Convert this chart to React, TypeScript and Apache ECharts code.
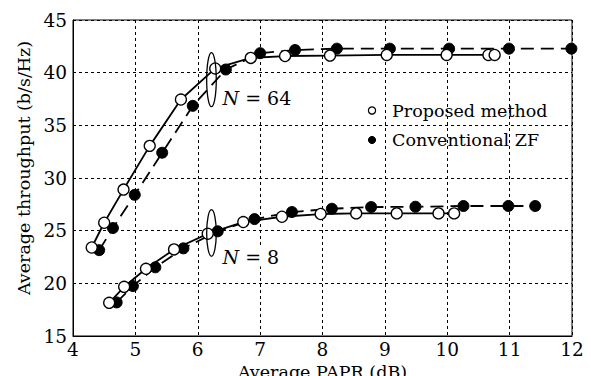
import React, { useEffect, useRef } from "react";
import * as echarts from "echarts";

const xTicks = [4, 5, 6, 7, 8, 9, 10, 11, 12];
const yTicks = [15, 20, 25, 30, 35, 40, 45];

const xPropN64 = [4.3, 4.5, 4.81, 5.23, 5.73, 6.28, 6.85, 7.4, 8.12, 9.03, 9.99, 10.66, 10.76];
const yPropN64 = [23.4, 25.75, 28.9, 33.05, 37.45, 40.4, 41.4, 41.58, 41.62, 41.68, 41.68, 41.68, 41.68];
const xConvN64 = [4.42, 4.64, 4.99, 5.43, 5.92, 6.45, 7.0, 7.56, 8.23, 9.08, 10.03, 10.99, 11.99];
const yConvN64 = [23.15, 25.25, 28.4, 32.4, 36.85, 40.3, 41.85, 42.15, 42.28, 42.28, 42.28, 42.28, 42.28];
const xPropN8 = [4.58, 4.82, 5.17, 5.62, 6.16, 6.73, 7.35, 7.97, 8.54, 9.19, 9.86, 10.11];
const yPropN8 = [18.15, 19.67, 21.38, 23.22, 24.71, 25.82, 26.32, 26.58, 26.64, 26.64, 26.64, 26.64];
const xConvN8 = [4.7, 4.96, 5.32, 5.77, 6.32, 6.91, 7.51, 8.15, 8.78, 9.49, 10.26, 10.98, 11.41];
const yConvN8 = [18.19, 19.74, 21.52, 23.32, 24.94, 26.1, 26.77, 27.08, 27.24, 27.27, 27.34, 27.34, 27.34];

const legendNames = ["Proposed method", "Conventional ZF"];
const groupLabels = ["64", "8"];
// ellipse centres in data coordinates (annotation anchors)
const ellipseAnchors: [number, number][] = [
  [6.22, 39.33],
  [6.22, 24.78],
];

const FONT = "DejaVu Serif";

function zip(xs: number[], ys: number[]) {
  return xs.map((x, i) => [x, ys[i]]);
}

export default function App() {
  const ref = useRef<HTMLDivElement>(null);
  useEffect(() => {
    if (!ref.current) return;
    const chart = echarts.init(ref.current, undefined, { renderer: "svg" });
    const openStyle = { color: "#fff", borderColor: "#000", borderWidth: 1.3 };
    const fillStyle = { color: "#000", borderColor: "#000", borderWidth: 1 };
    const solid = { color: "#000", width: 1.8, type: "solid" as const };
    const dashed = { color: "#000", width: 1.8, type: [13, 7] as any };
    const tickRich = { t: { fontFamily: FONT, fontSize: 18.5, color: "#000" } };
    const nameRich = { n: { fontFamily: FONT, fontSize: 17.5, color: "#000" } };
    const option: any = {
      animation: false,
      textStyle: { fontFamily: FONT },
      grid: {
        left: 73, top: 20, right: 19, bottom: 40,
        outerBoundsMode: "none", containLabel: false,
        show: true, borderColor: "#000", borderWidth: 1,
      },
      xAxis: {
        type: "value", min: 4, max: 12, interval: 1,
        name: "{n|Average PAPR (dB)}", nameLocation: "middle", nameGap: 27,
        nameMoveOverlap: false,
        nameTextStyle: { fontFamily: FONT, fontSize: 17.5, color: "#000", rich: nameRich },
        axisLine: { show: true, lineStyle: { color: "#000", width: 1 } },
        axisTick: { show: false },
        axisLabel: { fontFamily: FONT, fontSize: 18.5, color: "#000", margin: 4, rich: tickRich,
          formatter: (v: number) => (xTicks.includes(v) ? "{t|" + v + "}" : "") },
        splitLine: { show: true, lineStyle: { color: "#000", width: 1, type: [3, 3] } },
      },
      yAxis: {
        type: "value", min: 15, max: 45, interval: 5,
        name: "{n|Average throughput (b/s/Hz)}", nameLocation: "middle", nameGap: 40,
        nameMoveOverlap: false,
        nameTextStyle: { fontFamily: FONT, fontSize: 17.5, color: "#000", padding: [0, 0, 0, 20], rich: nameRich },
        axisLine: { show: true, lineStyle: { color: "#000", width: 1 } },
        axisTick: { show: false },
        axisLabel: { fontFamily: FONT, fontSize: 18.5, color: "#000", margin: 6, rich: tickRich,
          formatter: (v: number) => (yTicks.includes(v) ? "{t|" + v + "}" : "") },
        splitLine: { show: true, lineStyle: { color: "#000", width: 1, type: [3, 3] } },
      },
      series: [
        { name: legendNames[1] + " N=64", type: "line", data: zip(xConvN64, yConvN64), symbol: "circle", symbolSize: 11, lineStyle: dashed, itemStyle: fillStyle, z: 2 },
        { name: legendNames[0] + " N=64", type: "line", data: zip(xPropN64, yPropN64), symbol: "circle", symbolSize: 11, lineStyle: solid, itemStyle: openStyle, z: 3 },
        { name: legendNames[1] + " N=8", type: "line", data: zip(xConvN8, yConvN8), symbol: "circle", symbolSize: 11, lineStyle: dashed, itemStyle: fillStyle, z: 2 },
        { name: legendNames[0] + " N=8", type: "line", data: zip(xPropN8, yPropN8), symbol: "circle", symbolSize: 11, lineStyle: solid, itemStyle: openStyle, z: 3 },
      ],
    };
    chart.setOption(option);

    const graphics: any[] = [];
    ellipseAnchors.forEach((a, i) => {
      const p = chart.convertToPixel({ gridIndex: 0 }, a) as number[];
      const ry = i === 0 ? 27 : 23.3;
      graphics.push({ type: "ellipse", shape: { cx: p[0], cy: p[1], rx: 4.8, ry },
        style: { fill: "none", stroke: "#000", lineWidth: 1.3 }, z: 10 });
      graphics.push({
        type: "text", x: p[0] + 11, y: p[1] + (i === 0 ? 18 : 24),
        style: {
          text: "{i|N} = " + groupLabels[i], fontFamily: FONT, fontSize: 19, fill: "#000",
          verticalAlign: "middle", align: "left",
          rich: { i: { fontFamily: FONT, fontSize: 19, fontStyle: "italic", fill: "#000" } },
          backgroundColor: "#fff",
        },
        z: 10,
      });
    });
    const legendY = [110.5, 140];
    legendNames.forEach((nm, i) => {
      graphics.push({ type: "circle", shape: { cx: 372, cy: legendY[i], r: 3.6 },
        style: i === 0 ? { fill: "#fff", stroke: "#000", lineWidth: 1.2 } : { fill: "#000", stroke: "#000", lineWidth: 1 }, z: 10 });
      graphics.push({ type: "text", x: 392, y: legendY[i],
        style: { text: nm, fontFamily: FONT, fontSize: 17.5, fill: "#000", verticalAlign: "middle", align: "left" }, z: 10 });
    });
    chart.setOption({ graphic: graphics });
    return () => chart.dispose();
  }, []);
  return (
    <div ref={ref} style={{ position: "fixed", left: 0, top: 0, width: 591, height: 376, background: "#fff" }} />
  );
}
